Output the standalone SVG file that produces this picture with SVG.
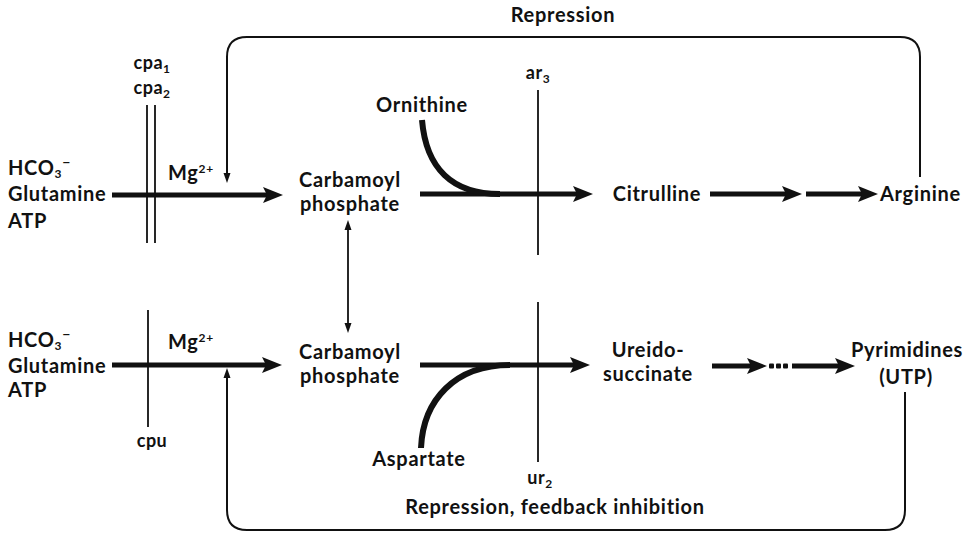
<svg xmlns="http://www.w3.org/2000/svg" width="965" height="534" viewBox="0 0 965 534">
<style>
  text { font-family: Lato, "Open Sans", "Liberation Sans", sans-serif; font-weight: 700; font-size: 20px; letter-spacing: 0.7px; fill: #111; }
  .c { text-anchor: middle; }
  .lbl { font-size: 18px; letter-spacing: 0.5px; }
  .thick { stroke: #111; stroke-width: 5; fill: none; }
  .curve { stroke: #111; stroke-width: 6; fill: none; stroke-linecap: butt; }
  .thin { stroke: #111; stroke-width: 1.8; fill: none; }
  .fb { stroke: #111; stroke-width: 2; fill: none; }
</style>
<defs>
  <marker id="big" markerUnits="userSpaceOnUse" viewBox="0 0 20 16" refX="6" refY="8" markerWidth="20" markerHeight="16" orient="auto">
    <path d="M0,0 L20,8 L0,16 L4,8 Z" fill="#111"/>
  </marker>
  <marker id="small" markerUnits="userSpaceOnUse" viewBox="0 0 10 8" refX="1" refY="4" markerWidth="10" markerHeight="8" orient="auto-start-reverse">
    <path d="M0,0.5 L10,4 L0,7.5 Z" fill="#111"/>
  </marker>
</defs>

<g id="connectors">
  <!-- feedback loops -->
  <path class="fb" d="M920,177 L920,57 Q920,37 900,37 L247,37 Q227,37 227,57 L227,174" marker-end="url(#small)"/>
  <path class="fb" d="M905,392 L905,510 Q905,530 885,530 L247,530 Q227,530 227,510 L227,377" marker-end="url(#small)"/>
  <!-- carbamoyl phosphate exchange -->
  <path class="thin" d="M348,229 L348,324" marker-start="url(#small)" marker-end="url(#small)"/>
  <!-- top pathway -->
  <path class="thick" d="M112,195 L269,195" marker-end="url(#big)"/>
  <path class="thick" d="M420,194 L579,194" marker-end="url(#big)"/>
  <path class="curve" d="M422,120 C426,168 452,194 500,194"/>
  <path class="thick" d="M710,194 L788,194" marker-end="url(#big)"/>
  <path class="thick" d="M806,194 L864,194" marker-end="url(#big)"/>
  <!-- bottom pathway -->
  <path class="thick" d="M112,365 L268,365" marker-end="url(#big)"/>
  <path class="thick" d="M420,365 L576,365" marker-end="url(#big)"/>
  <path class="curve" d="M421,448 C423,400 455,365 510,365"/>
  <path class="thick" d="M712,366 L753,366" marker-end="url(#big)"/>
  <rect x="769" y="363.5" width="5" height="5" rx="1" fill="#111"/>
  <rect x="776" y="363.5" width="5" height="5" rx="1" fill="#111"/>
  <rect x="783" y="363.5" width="5" height="5" rx="1" fill="#111"/>
  <path class="thick" d="M792,366 L841,366" marker-end="url(#big)"/>
  <!-- gene block bars -->
  <path class="thin" d="M147,105 L147,243 M155,105 L155,243"/>
  <path class="thin" d="M538,90 L538,255"/>
  <path class="thin" d="M148,310 L148,427"/>
  <path class="thin" d="M538,302 L538,462"/>
</g>

<g id="repression-top"><text class="c" x="563" y="22">Repression</text></g>
<g id="repression-bottom"><text class="c" x="555" y="514">Repression, feedback inhibition</text></g>

<g id="substrates-top">
  <text x="8" y="175">HCO<tspan dy="3" font-size="12">3</tspan><tspan dy="-11" font-size="14">−</tspan></text>
  <text x="8" y="201">Glutamine</text>
  <text x="8" y="228">ATP</text>
</g>
<g id="substrates-bottom">
  <text x="8" y="347">HCO<tspan dy="3" font-size="12">3</tspan><tspan dy="-11" font-size="14">−</tspan></text>
  <text x="8" y="372.5">Glutamine</text>
  <text x="8" y="397">ATP</text>
</g>

<g id="cpa">
  <text class="c lbl" x="152" y="69">cpa<tspan dy="4" font-size="12">1</tspan></text>
  <text class="c lbl" x="152" y="94">cpa<tspan dy="4" font-size="12">2</tspan></text>
</g>
<g id="cpu"><text class="c lbl" x="152" y="447">cpu</text></g>
<g id="mg-top"><text x="168" y="180">Mg<tspan dy="-7" font-size="12">2+</tspan></text></g>
<g id="mg-bottom"><text x="168" y="349">Mg<tspan dy="-7" font-size="12">2+</tspan></text></g>

<g id="carbamoyl-top">
  <text class="c" x="350" y="187">Carbamoyl</text>
  <text class="c" x="350" y="211">phosphate</text>
</g>
<g id="carbamoyl-bottom">
  <text class="c" x="350" y="359">Carbamoyl</text>
  <text class="c" x="350" y="383">phosphate</text>
</g>
<g id="ornithine"><text class="c" x="422" y="112">Ornithine</text></g>
<g id="aspartate"><text class="c" x="419" y="466">Aspartate</text></g>
<g id="ar3"><text class="c lbl" x="538" y="79">ar<tspan dy="4" font-size="12">3</tspan></text></g>
<g id="ur2"><text class="c lbl" x="540" y="484">ur<tspan dy="4" font-size="12">2</tspan></text></g>
<g id="citrulline"><text class="c" x="657" y="201">Citrulline</text></g>
<g id="arginine"><text x="880" y="201">Arginine</text></g>
<g id="ureidosuccinate">
  <text class="c" x="648" y="357">Ureido-</text>
  <text class="c" x="648" y="381">succinate</text>
</g>
<g id="pyrimidines">
  <text class="c" x="907" y="357">Pyrimidines</text>
  <text class="c" x="906" y="384">(UTP)</text>
</g>
</svg>
